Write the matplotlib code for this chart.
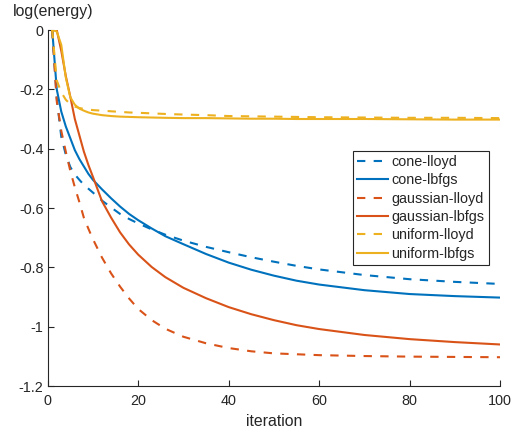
import matplotlib
matplotlib.use("Agg")
import matplotlib.pyplot as plt

plt.rcParams['font.family'] = ['Liberation Sans', 'DejaVu Sans']

iteration = [1, 2, 3, 4, 5, 6, 7, 8, 9, 10, 12, 14, 16, 18, 20, 23, 26, 30,
             35, 40, 45, 50, 55, 60, 70, 80, 90, 100]

cone_lloyd = [0, -0.23, -0.36, -0.42, -0.462, -0.487, -0.505, -0.522, -0.535,
              -0.548, -0.575, -0.598, -0.62, -0.637, -0.652, -0.672, -0.69,
              -0.71, -0.731, -0.749, -0.766, -0.781, -0.795, -0.807, -0.826,
              -0.84, -0.849, -0.856]
cone_lbfgs = [0, -0.2, -0.275, -0.325, -0.365, -0.405, -0.435, -0.46, -0.485,
              -0.505, -0.537, -0.567, -0.595, -0.62, -0.641, -0.669, -0.695,
              -0.722, -0.755, -0.784, -0.808, -0.828, -0.845, -0.858, -0.877,
              -0.89, -0.897, -0.902]
gaussian_lloyd = [0, -0.24, -0.34, -0.41, -0.475, -0.53, -0.58, -0.633,
                  -0.67, -0.705, -0.767, -0.82, -0.865, -0.905, -0.94, -0.978,
                  -1.007, -1.034, -1.056, -1.072, -1.083, -1.09, -1.093,
                  -1.096, -1.099, -1.101, -1.102, -1.103]
gaussian_lbfgs = [0, 0, -0.07, -0.155, -0.225, -0.3, -0.355, -0.41, -0.455,
                  -0.495, -0.577, -0.632, -0.682, -0.723, -0.757, -0.799,
                  -0.833, -0.869, -0.904, -0.934, -0.958, -0.978, -0.995,
                  -1.008, -1.028, -1.042, -1.052, -1.06]
uniform_lloyd = [0, -0.17, -0.21, -0.235, -0.25, -0.258, -0.263, -0.266,
                 -0.268, -0.27, -0.272, -0.274, -0.276, -0.278, -0.279,
                 -0.281, -0.283, -0.285, -0.287, -0.29, -0.291, -0.292,
                 -0.293, -0.294, -0.295, -0.296, -0.296, -0.297]
uniform_lbfgs = [0, -0.005, -0.05, -0.16, -0.227, -0.252, -0.265, -0.272,
                 -0.278, -0.282, -0.287, -0.29, -0.292, -0.293, -0.294,
                 -0.295, -0.296, -0.297, -0.297, -0.298, -0.299, -0.299,
                 -0.3, -0.3, -0.3, -0.301, -0.302, -0.302]

series_labels = ['cone-lloyd', 'cone-lbfgs', 'gaussian-lloyd',
                 'gaussian-lbfgs', 'uniform-lloyd', 'uniform-lbfgs']
xticks = [0, 20, 40, 60, 80, 100]
yticks = [0, -0.2, -0.4, -0.6, -0.8, -1, -1.2]
ytick_labels = ['0', '-0.2', '-0.4', '-0.6', '-0.8', '-1', '-1.2']

blue = '#0072BD'
orange = '#D95319'
yellow = '#EDB120'
axcol = '#262626'

W, H = 517, 433
fig = plt.figure(figsize=(W / 100, H / 100), dpi=100)
ax = fig.add_axes([47.7 / W, 1 - 386 / H, 452.3 / W, 356 / H])

lw = 1.5
dash = (0, (4, 4))
ax.plot(iteration, cone_lloyd, color=blue, lw=lw, linestyle=dash, label=series_labels[0])
ax.plot(iteration, cone_lbfgs, color=blue, lw=lw, label=series_labels[1])
ax.plot(iteration, gaussian_lloyd, color=orange, lw=lw, linestyle=dash, label=series_labels[2])
ax.plot(iteration, gaussian_lbfgs, color=orange, lw=lw, label=series_labels[3])
ax.plot(iteration, uniform_lloyd, color=yellow, lw=lw, linestyle=dash, label=series_labels[4])
ax.plot(iteration, uniform_lbfgs, color=yellow, lw=lw, label=series_labels[5])

ax.set_xlim(0, 100)
ax.set_ylim(-1.2, 0)
ax.set_xticks(xticks)
ax.set_xticklabels([str(v) for v in xticks])
ax.set_yticks(yticks)
ax.set_yticklabels(ytick_labels)

for s in ['top', 'right']:
    ax.spines[s].set_visible(False)
for s in ['left', 'bottom']:
    ax.spines[s].set_color(axcol)
    ax.spines[s].set_linewidth(0.8)
ax.tick_params(direction='in', length=4.5, width=0.8, color=axcol,
               labelcolor=axcol, labelsize=10.4)
ax.tick_params(axis='x', pad=6)
ax.tick_params(axis='y', pad=3)

ax.set_xlabel('iteration', fontsize=11.4, color=axcol, labelpad=4)
fig.text(52.7 / W, 1 - 11.5 / H, 'log(energy)', fontsize=11.4, color=axcol,
         ha='center', va='center')

leg = ax.legend(loc='upper left', bbox_to_anchor=(0.674, 0.661),
                borderaxespad=0, fontsize=10.4, frameon=True, fancybox=False,
                handlelength=2.15, handletextpad=0.25, labelspacing=0.3,
                borderpad=0.3)
leg.get_frame().set_edgecolor(axcol)
leg.get_frame().set_linewidth(0.8)
leg.get_frame().set_alpha(1)
for t in leg.get_texts():
    t.set_color(axcol)

fig.savefig('out.png', dpi=100)
